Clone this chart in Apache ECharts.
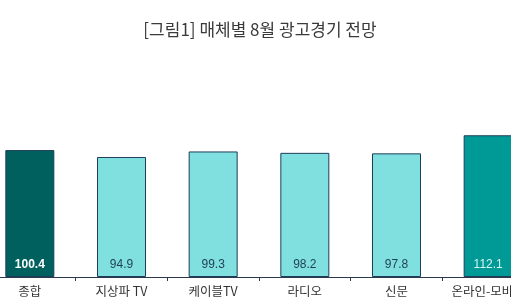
<!DOCTYPE html>
<html><head><meta charset="utf-8">
<script src="https://cdn.jsdelivr.net/npm/echarts@6/dist/echarts.min.js"></script>
<style>html,body{margin:0;padding:0;background:#fff;overflow:hidden}#c{position:absolute;left:-16px;top:0;width:550px;height:308px}</style>
</head><body><div id="c"></div>
<script>
const titleText = '[그림1] 매체별 8월 광고경기 전망';
const categories = ['종합', '지상파 TV', '케이블TV', '라디오', '신문', '온라인-모바일'];
const values = [100.4, 94.9, 99.3, 98.2, 97.8, 112.1];
const barColors = ['#00605E', '#80E0E0', '#80E0E0', '#80E0E0', '#80E0E0', '#009A96'];
const labelColors = ['#ffffff', '#1f3f4f', '#1f3f4f', '#1f3f4f', '#1f3f4f', '#d8f4f2'];
const labelWeights = ['bold', 'normal', 'normal', 'normal', 'normal', 'normal'];

const chart = echarts.init(document.getElementById('c'), null, {renderer: 'canvas'});
chart.setOption({
  animation: false,
  backgroundColor: '#ffffff',
  title: {
    text: titleText, left: 271, textAlign: 'center', top: 16,
    textStyle: {fontFamily: 'Noto Sans CJK KR', fontSize: 17, fontWeight: 'normal', color: '#3a3a3a'}
  },
  grid: {left: 0, right: 0, top: 100, bottom: 31, containLabel: false},
  xAxis: {
    type: 'category', data: categories,
    axisLine: {lineStyle: {color: '#2a3a4a', width: 1}},
    axisTick: {show: true, length: 4, lineStyle: {color: '#2a3a4a'}},
    axisLabel: {interval: 0, fontFamily: 'Noto Sans CJK KR', fontSize: 12.5, color: '#333333', margin: 8}
  },
  yAxis: {type: 'value', min: 0, max: 140, show: false, splitLine: {show: false}},
  series: [{
    type: 'bar', barWidth: 49,
    data: values.map((v, i) => ({
      value: v,
      itemStyle: {color: barColors[i], borderColor: '#1F3D5A', borderWidth: 1},
      label: {color: labelColors[i], fontWeight: labelWeights[i]}
    })),
    label: {
      show: true, position: 'insideBottom', distance: 6,
      fontFamily: 'Liberation Sans', fontSize: 12
    }
  }]
});
</script></body></html>
